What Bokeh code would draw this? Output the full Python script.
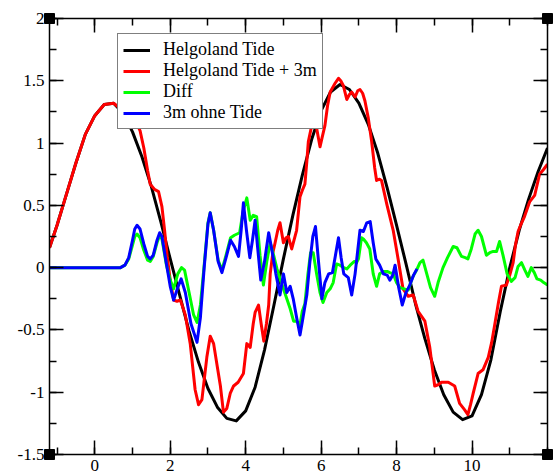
from bokeh.plotting import figure
from bokeh.models import (Legend, LegendItem, LinearAxis, FixedTicker, Range1d,
                          CustomJSTickFormatter)
from bokeh.embed import file_html
from bokeh.resources import INLINE

# ---------------- data ----------------
tide_pts = [(-1.2, 0.16), (-1.0, 0.34), (-0.75, 0.59), (-0.5, 0.84), (-0.25, 1.07),
            (0.0, 1.22), (0.25, 1.31), (0.5, 1.32), (0.75, 1.24), (1.0, 1.09),
            (1.25, 0.89), (1.5, 0.65), (1.75, 0.37), (2.0, 0.07), (2.25, -0.22),
            (2.5, -0.51), (2.75, -0.76), (3.0, -0.97), (3.25, -1.12), (3.5, -1.21),
            (3.75, -1.23), (4.0, -1.15), (4.25, -0.96), (4.5, -0.66), (4.75, -0.30),
            (5.0, 0.07), (5.25, 0.42), (5.5, 0.74), (5.75, 1.03), (6.0, 1.26),
            (6.25, 1.41), (6.5, 1.47), (6.75, 1.43), (7.0, 1.32), (7.25, 1.15),
            (7.5, 0.92), (7.75, 0.64), (8.0, 0.34), (8.25, 0.03), (8.5, -0.29),
            (8.75, -0.57), (9.0, -0.82), (9.25, -1.02), (9.5, -1.16), (9.75, -1.22),
            (10.0, -1.19), (10.25, -1.02), (10.5, -0.74), (10.75, -0.35), (11.0, 0.00),
            (11.25, 0.30), (11.5, 0.55), (11.75, 0.77), (12.0, 0.96)]

tide3m_pts = [(-1.2, 0.16), (-1.0, 0.34), (-0.75, 0.59), (-0.5, 0.84), (-0.25, 1.07),
              (0.0, 1.22), (0.25, 1.31), (0.5, 1.32), (0.75, 1.26), (1.0, 1.18),
              (1.1, 1.16), (1.2, 1.10), (1.30, 0.96), (1.40, 0.78), (1.47, 0.67),
              (1.58, 0.63), (1.69, 0.61), (1.78, 0.49), (1.85, 0.30), (1.92, 0.09),
              (2.0, -0.10), (2.09, -0.26), (2.18, -0.27), (2.27, -0.26), (2.40, -0.38),
              (2.53, -0.61), (2.66, -0.98), (2.75, -1.10), (2.84, -1.06), (2.97, -0.72),
              (3.06, -0.55), (3.15, -0.61), (3.25, -0.80), (3.33, -0.95), (3.41, -1.16),
              (3.50, -1.13), (3.59, -1.01), (3.68, -0.95), (3.80, -0.92), (3.94, -0.85),
              (4.03, -0.61), (4.12, -0.64), (4.20, -0.45), (4.25, -0.36), (4.34, -0.30),
              (4.41, -0.45), (4.48, -0.59), (4.55, -0.45), (4.61, -0.30), (4.65, -0.05),
              (4.72, 0.12), (4.78, 0.20), (4.85, 0.30), (4.91, 0.36), (5.0, 0.20),
              (5.07, 0.24), (5.13, 0.25), (5.22, 0.15), (5.35, 0.30), (5.44, 0.57),
              (5.50, 0.62), (5.57, 0.67), (5.62, 0.85), (5.66, 1.01), (5.75, 1.14),
              (5.88, 1.12), (5.97, 0.97), (6.03, 1.05), (6.10, 1.14), (6.17, 1.30),
              (6.24, 1.41), (6.37, 1.48), (6.46, 1.52), (6.52, 1.50), (6.59, 1.46),
              (6.68, 1.35), (6.75, 1.39), (6.81, 1.41), (6.90, 1.37), (6.97, 1.42),
              (7.03, 1.43), (7.10, 1.40), (7.16, 1.34), (7.25, 1.20), (7.34, 1.01),
              (7.42, 0.80), (7.47, 0.70), (7.55, 0.71), (7.60, 0.70), (7.74, 0.51),
              (7.91, 0.30), (8.04, 0.07), (8.17, -0.17), (8.31, -0.23), (8.44, -0.22),
              (8.57, -0.35), (8.75, -0.43), (8.88, -0.64), (9.01, -0.95), (9.10, -0.94),
              (9.19, -0.92), (9.37, -0.92), (9.54, -0.95), (9.67, -1.09), (9.80, -1.14),
              (9.89, -1.18), (9.96, -1.10), (10.03, -1.01), (10.16, -0.85), (10.29, -0.82),
              (10.43, -0.72), (10.52, -0.60), (10.6, -0.46), (10.70, -0.28), (10.78, -0.15),
              (10.91, -0.14), (11.0, -0.06), (11.09, 0.04), (11.15, 0.18), (11.22, 0.29),
              (11.30, 0.35), (11.39, 0.41), (11.53, 0.53), (11.66, 0.58), (11.79, 0.75),
              (11.90, 0.79), (12.0, 0.83)]

diff_pts = [(-1.2, 0.0), (0.68, 0.0), (0.80, 0.02), (0.90, 0.07), (1.0, 0.18), (1.06, 0.25),
            (1.12, 0.27), (1.20, 0.24), (1.30, 0.14), (1.40, 0.06), (1.47, 0.05), (1.55, 0.09),
            (1.65, 0.20), (1.72, 0.26), (1.78, 0.23), (1.90, 0.02), (2.0, -0.10), (2.09, -0.17),
            (2.20, -0.05), (2.30, 0.0), (2.38, -0.02), (2.50, -0.20), (2.62, -0.38), (2.71, -0.44),
            (2.80, -0.30), (2.90, 0.02), (3.0, 0.36), (3.06, 0.44), (3.15, 0.30), (3.27, 0.06),
            (3.37, -0.02), (3.48, 0.10), (3.60, 0.24), (3.70, 0.26), (3.84, 0.28), (3.93, 0.45),
            (4.03, 0.56), (4.12, 0.38), (4.20, 0.42), (4.29, 0.41), (4.38, 0.10), (4.47, -0.14),
            (4.56, 0.05), (4.65, 0.20), (4.74, 0.10), (4.83, -0.01), (4.92, -0.10), (5.0, -0.17),
            (5.09, -0.25), (5.18, -0.33), (5.27, -0.43), (5.35, -0.43), (5.44, -0.46), (5.50, -0.35),
            (5.57, -0.29), (5.65, -0.05), (5.72, 0.12), (5.79, 0.12), (5.88, -0.05), (5.97, -0.20),
            (6.05, -0.28), (6.15, -0.20), (6.24, -0.17), (6.32, -0.12), (6.41, 0.03), (6.5, 0.02),
            (6.60, 0.00), (6.68, -0.01), (6.77, 0.02), (6.88, 0.05), (6.94, 0.04), (6.99, 0.07),
            (7.07, 0.24), (7.12, 0.23), (7.20, 0.20), (7.29, 0.15), (7.38, -0.05), (7.47, -0.15),
            (7.55, -0.05), (7.65, -0.03), (7.75, -0.03), (7.82, -0.04), (7.91, -0.05), (8.0, -0.12),
            (8.09, -0.16), (8.20, -0.17), (8.31, -0.18), (8.42, -0.08), (8.53, -0.02), (8.62, 0.04),
            (8.70, 0.06), (8.80, -0.05), (8.90, -0.16), (9.01, -0.23), (9.10, -0.12), (9.23, 0.00),
            (9.35, 0.08), (9.50, 0.17), (9.60, 0.16), (9.72, 0.09), (9.82, 0.08), (9.89, 0.07),
            (9.98, 0.15), (10.08, 0.27), (10.16, 0.30), (10.25, 0.25), (10.38, 0.10), (10.47, 0.12),
            (10.56, 0.13), (10.65, 0.13), (10.73, 0.21), (10.82, 0.10), (10.93, -0.05), (11.04, -0.11),
            (11.14, -0.08), (11.22, 0.01), (11.31, 0.04), (11.40, -0.02), (11.48, -0.07), (11.57, 0.00),
            (11.65, -0.04), (11.72, -0.09), (11.82, -0.10), (11.90, -0.12), (12.0, -0.14)]

surge_pts = [(-1.2, 0.0), (0.68, 0.0), (0.80, 0.02), (0.90, 0.08), (1.0, 0.22), (1.06, 0.31),
             (1.12, 0.34), (1.20, 0.31), (1.30, 0.19), (1.40, 0.09), (1.47, 0.07), (1.55, 0.10),
             (1.65, 0.22), (1.72, 0.28), (1.78, 0.25), (1.90, 0.03), (2.0, -0.15), (2.09, -0.26),
             (2.20, -0.16), (2.29, -0.09), (2.40, -0.20), (2.55, -0.45), (2.71, -0.60), (2.80, -0.40),
             (2.90, 0.0), (3.0, 0.35), (3.06, 0.44), (3.15, 0.30), (3.27, 0.05), (3.37, -0.04),
             (3.48, 0.08), (3.60, 0.22), (3.70, 0.17), (3.81, 0.09), (3.88, 0.30), (3.94, 0.52),
             (4.02, 0.30), (4.11, 0.08), (4.18, 0.22), (4.25, 0.38), (4.32, 0.15), (4.40, -0.10),
             (4.50, 0.05), (4.61, 0.28), (4.69, 0.15), (4.80, -0.05), (4.91, -0.22), (5.0, -0.05),
             (5.09, -0.20), (5.18, -0.15), (5.26, -0.25), (5.35, -0.40), (5.44, -0.54), (5.52, -0.40),
             (5.62, -0.22), (5.70, 0.04), (5.78, 0.25), (5.85, 0.33), (5.93, 0.05), (6.02, -0.25),
             (6.10, -0.12), (6.20, -0.05), (6.30, -0.04), (6.38, 0.10), (6.46, 0.24), (6.53, 0.08),
             (6.60, -0.05), (6.72, -0.08), (6.81, -0.22), (6.90, -0.05), (7.03, 0.30), (7.12, 0.29),
             (7.21, 0.36), (7.30, 0.37), (7.38, 0.20), (7.45, 0.07), (7.55, 0.02), (7.65, -0.05),
             (7.75, -0.06), (7.82, -0.10), (7.90, -0.06), (7.96, 0.02), (8.05, -0.15), (8.15, -0.30),
             (8.25, -0.20), (8.35, -0.14), (8.45, -0.06), (8.54, -0.01)]

series_names = ["Helgoland Tide", "Helgoland Tide + 3m", "Diff", "3m ohne Tide"]
series_colors = ["black", "red", "#00ff00", "blue"]

x_limits = (-1.2, 12.0)
y_limits = (-1.5, 2.0)
x_major_ticks = [0, 2, 4, 6, 8, 10]
x_tick_labels = ["0", "2", "4", "6", "8", "10"]
x_minor_ticks = [-1, 0, 1, 2, 3, 4, 5, 6, 7, 8, 9, 10, 11, 12]
y_major_ticks = [-1.5, -1.0, -0.5, 0.0, 0.5, 1.0, 1.5, 2.0]
y_tick_labels = ["-1.5", "-1", "-0.5", "0", "0.5", "1", "1.5", "2"]
y_minor_ticks = [-1.5, -1.25, -1.0, -0.75, -0.5, -0.25, 0.0, 0.25, 0.5, 0.75,
                 1.0, 1.25, 1.5, 1.75, 2.0]

FONT = "Liberation Serif"

p = figure(width=559, height=473, output_backend="svg", toolbar_location=None,
           x_range=Range1d(*x_limits), y_range=Range1d(*y_limits))
p.min_border_left = 49
p.min_border_right = 12
p.min_border_top = 18
p.min_border_bottom = 0
p.xgrid.visible = False
p.ygrid.visible = False
p.outline_line_color = None
p.background_fill_color = "white"
p.border_fill_color = "white"

blank = CustomJSTickFormatter(code="return ''")


def style_axis(ax, ticks, minor, labels=None):
    ax.ticker = FixedTicker(ticks=ticks, minor_ticks=minor)
    ax.axis_line_color = "black"
    ax.axis_line_width = 1.5
    ax.major_tick_line_color = "black"
    ax.major_tick_line_width = 1.5
    ax.minor_tick_line_color = "black"
    ax.minor_tick_line_width = 1.5
    ax.major_tick_in = 14
    ax.major_tick_out = 0
    ax.minor_tick_in = 7
    ax.minor_tick_out = 0
    ax.major_label_text_font = FONT
    ax.major_label_text_font_size = "17px"
    ax.major_label_text_color = "black"
    if labels is None:
        ax.formatter = blank
        ax.major_label_standoff = 0
    else:
        ax.formatter = CustomJSTickFormatter(
            args=dict(t=list(ticks), l=list(labels)),
            code="for (let i = 0; i < t.length; i++) { if (Math.abs(t[i] - tick) < 1e-9) return l[i]; } return '';")
        ax.major_label_standoff = 5


style_axis(p.xaxis[0], x_major_ticks, x_minor_ticks, x_tick_labels)
style_axis(p.yaxis[0], y_major_ticks, y_minor_ticks, y_tick_labels)
top_ax = LinearAxis()
right_ax = LinearAxis()
style_axis(top_ax, x_major_ticks, x_minor_ticks)
style_axis(right_ax, y_major_ticks, y_minor_ticks)
p.add_layout(top_ax, "above")
p.add_layout(right_ax, "right")

renderers = []
for pts, color in zip([tide_pts, tide3m_pts, diff_pts, surge_pts], series_colors):
    xs = [a for a, b in pts]
    ys = [b for a, b in pts]
    r = p.line(xs, ys, line_color=color, line_width=3, line_join="round")
    renderers.append(r)

# corner handles (xmgrace style)
p.scatter([x_limits[0], x_limits[1], x_limits[0], x_limits[1]],
          [y_limits[0], y_limits[0], y_limits[1], y_limits[1]],
          marker="square", size=10, color="black", level="overlay")

legend = Legend(items=[LegendItem(label=n, renderers=[r]) for n, r in zip(series_names, renderers)],
                location=(68, 325))
legend.border_line_color = "black"
legend.border_line_width = 1.5
legend.background_fill_color = "white"
legend.background_fill_alpha = 1.0
legend.label_text_font = FONT
legend.label_text_font_size = "18px"
legend.label_text_color = "black"
legend.glyph_width = 27
legend.glyph_height = 20
legend.label_height = 20
legend.label_standoff = 13
legend.padding = 5
legend.spacing = 0
legend.margin = 0
p.add_layout(legend)

open("out.html", "w").write(file_html(p, INLINE))
